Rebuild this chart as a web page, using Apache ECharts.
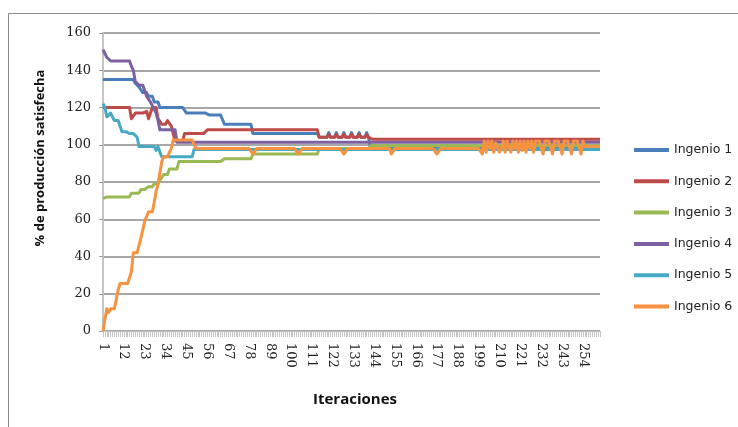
<!DOCTYPE html>
<html>
<head>
<meta charset="utf-8">
<script src="https://cdn.jsdelivr.net/npm/echarts@6/dist/echarts.min.js"></script>
<style>
html,body{margin:0;padding:0;background:#fff;}
#c{width:738px;height:427px;}
</style>
</head>
<body>
<div id="c"></div>
<script>
// Run-length data: [value, count]
const seriesNames = ['Ingenio 1','Ingenio 2','Ingenio 3','Ingenio 4','Ingenio 5','Ingenio 6'];
const seriesColors = ['#4A7EBB','#BE4B48','#98B954','#7D60A0','#46AAC5','#F69240'];
const yTicks = [0,20,40,60,80,100,120,140,160];
const iterCount = 263;

const ingenio1 = [[135,17],[133,2],[131,2],[128,3],[126,3],[123,3],[120,14],[117,11],[116,9],[111,15],[106,35],
  [104,5],[106.5,1],[104,3],[106.5,1],[104,3],[106.5,1],[104,3],[106.5,1],[104,3],[106.5,1],[104,3],[106.5,1],[104,1],
  [98,122]];
const ingenio2 = [[120,15],[114,2],[117,5],[118,2],[114,2],[120,3],[114,2],[111,3],[113,2],[110,2],[102,5],[106,12],[108,59],
  [104,5],[105.5,1],[104,3],[105.5,1],[104,3],[105.5,1],[104,3],[105.5,1],[104,3],[105.5,1],[104,3],[105.5,1],[104,1],
  [103,122]];
const ingenio3 = [[71,1],[72,14],[74,5],[76,4],[77.5,3],[79,3],[81,2],[84,3],[87,5],[91,24],[92.5,15],[95,35],[98,27],[99.5,122]];
const ingenio4 = [[151,1],[149,1],[147,2],[145,11],[142,1],[140,1],[134,2],[132,3],[129,1],[126,2],[123,1],[121,2],[117,1],[113,1],[108,9],[101.3,224]];
const ingenio5 = [[122,1],[120,1],[115,2],[117,2],[113,4],[107,3],[106,5],[104,1],[99,9],[97,1],[99,1],[96,1],[93.5,17],[97.5,215]];
const ingenio6 = [[0,1],[6,1],[12,1],[10,1],[12,4],[22,1],[25.5,6],[32,1],[42,4],[50,2],[59,2],[64,3],[69,1],[75,1],[79,1],[85,1],[91,1],[93.5,4],[98,1],[102.5,12],
  [98,30],[95,2],[98,22],[95,2],[98,22],[95,2],[98,23],[95,2],[98,22],[95,2],[98,22],[95,1],
  [102,1],[96,1],[102,1],[98,1],[102,1],[96,1],[101,1],[102,1],[96,1],[98,1],[102,1],[96,1],[102,1],[99,1],
  [96,1],[102,1],[98,1],[102,1],[96,1],[102,1],[97,1],[102,1],[96,1],[102,1],[98,1],[102,1],[96,1],[102,1],
  [102,3],[95,1],[102,4],[95,1],[102,4],[95,1],[102,4],[95,1],[102,4],[95,1],[102,1],
  [99,9]];

function expand(runs){ const out=[]; runs.forEach(([v,n])=>{ for(let k=0;k<n;k++) out.push(v); }); return out; }
const categories = []; for(let i=1;i<=iterCount;i++) categories.push(String(i));
const allRuns = [ingenio1,ingenio2,ingenio3,ingenio4,ingenio5,ingenio6];

const chart = echarts.init(document.getElementById('c'), null, {renderer:'canvas'});
chart.setOption({
  animation:false,
  backgroundColor:'#fff',
  grid:{left:103, right:138, top:33, bottom:96},
  legend:{
    orient:'vertical', left:629, top:137, itemWidth:35, itemHeight:4, itemGap:15.3,
    icon:'rect',
    textStyle:{fontFamily:'DejaVu Sans', fontSize:12.5, color:'#222', lineHeight:16},
    data:seriesNames
  },
  xAxis:{
    type:'category', data:categories, boundaryGap:false,
    axisLine:{lineStyle:{color:'#c4c4c4', width:1}},
    axisTick:{show:true, interval:0, length:6, lineStyle:{color:'#c4c4c4', width:1}},
    axisLabel:{interval:10, rotate:-90, margin:12, fontFamily:'DejaVu Serif', fontSize:13, color:'#222'},
    splitLine:{show:false}
  },
  yAxis:{
    type:'value', min:0, max:160, interval:20,
    axisLine:{show:true, lineStyle:{color:'#c4c4c4', width:2}},
    axisTick:{show:true, length:4, lineStyle:{color:'#999'}},
    axisLabel:{margin:12, fontFamily:'DejaVu Serif', fontSize:13, color:'#222',
      formatter:function(v){ return yTicks.indexOf(v)>=0 ? String(v) : ''; }},
    splitLine:{show:true, lineStyle:{color:'#8a8a8a', width:1.5}}
  },
  graphic:[
    {type:'rect', shape:{x:8.5, y:13.5, width:760, height:440}, style:{fill:null, stroke:'#8c8c8c', lineWidth:1}, silent:true, z:-1},
    {type:'text', x:355, y:400, style:{text:'Iteraciones', textAlign:'center', textVerticalAlign:'middle', font:'bold 15px "Open Sans"', fill:'#111'}},
    {type:'text', rotation:Math.PI/2, x:40, y:158, style:{text:'% de producción satisfecha', textAlign:'center', textVerticalAlign:'middle', font:'bold 13px "Open Sans"', fill:'#111'}}
  ],
  series: allRuns.map((runs,idx)=>({
    name:seriesNames[idx], type:'line', data:expand(runs),
    showSymbol:false, symbol:'none',
    lineStyle:{width:3, color:seriesColors[idx], join:'round'},
    itemStyle:{color:seriesColors[idx]}
  }))
});
</script>
</body>
</html>
